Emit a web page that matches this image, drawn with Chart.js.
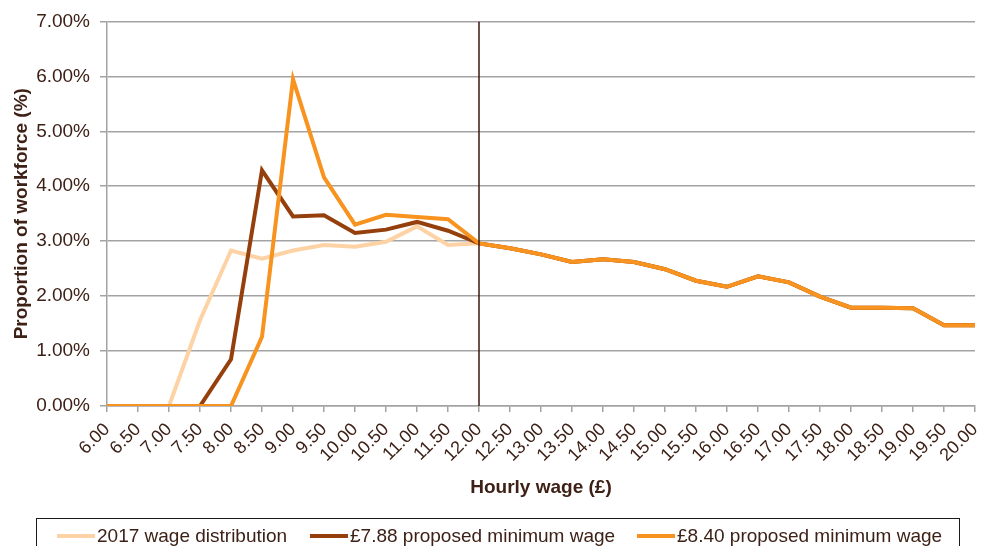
<!DOCTYPE html>
<html>
<head>
<meta charset="utf-8">
<script src="https://cdn.jsdelivr.net/npm/chart.js@4/dist/chart.umd.min.js"></script>
<style>
  body { margin: 0; background: #fff; }
  #wrap { position: relative; width: 984px; height: 546px; overflow: hidden; font-family: "Liberation Sans", Arial, sans-serif; }
  #legend { position: absolute; left: 36px; top: 518px; width: 924px; height: 60px; border: 1px solid #1a1a1a; box-sizing: border-box; }
  .item { position: absolute; top: 5px; font-size: 19px; color: #3d2117; line-height: 24px; white-space: nowrap; }
  .swatch { display: inline-block; width: 38px; height: 4px; vertical-align: middle; margin-right: 2px; position: relative; top: -1px; }
</style>
</head>
<body>
<div id="wrap">
  <canvas id="chart" width="984" height="546"></canvas>
  <div id="legend"></div>
</div>
<script>
'use strict';

const wages = ['6.00', '6.50', '7.00', '7.50', '8.00', '8.50', '9.00', '9.50', '10.00', '10.50',
  '11.00', '11.50', '12.00', '12.50', '13.00', '13.50', '14.00', '14.50', '15.00', '15.50',
  '16.00', '16.50', '17.00', '17.50', '18.00', '18.50', '19.00', '19.50', '20.00'];

// proportion of workforce, %
const dist2017 = [0, 0, 0, 1.56, 2.83, 2.68, 2.83, 2.93, 2.90, 2.99, 3.27, 2.93, 2.96,
  2.87, 2.76, 2.62, 2.67, 2.62, 2.49, 2.28, 2.17, 2.36, 2.25, 1.99, 1.79, 1.79, 1.78, 1.47, 1.47];
const min788 = [0, 0, 0, 0, 0.85, 4.29, 3.45, 3.47, 3.15, 3.21, 3.35, 3.19, 2.96,
  2.87, 2.76, 2.62, 2.67, 2.62, 2.49, 2.28, 2.17, 2.36, 2.25, 1.99, 1.79, 1.79, 1.78, 1.47, 1.47];
const min840 = [0, 0, 0, 0, 0, 1.26, 5.95, 4.16, 3.30, 3.48, 3.44, 3.40, 2.96,
  2.87, 2.76, 2.62, 2.67, 2.62, 2.49, 2.28, 2.17, 2.36, 2.25, 1.99, 1.79, 1.79, 1.78, 1.47, 1.47];

const yTicks = [0, 1, 2, 3, 4, 5, 6, 7];
const markerWage = '12.00';

const seriesNames = ['2017 wage distribution', '£7.88 proposed minimum wage', '£8.40 proposed minimum wage'];
const colours = ['#fdd3a6', '#943f0c', '#f7931e'];

const textColour = '#3d2117';
const gridColour = '#a3a3a3';
const font = { family: '"Liberation Sans", Arial, sans-serif', size: 19 };

const ctx = document.getElementById('chart').getContext('2d');
const chart = new Chart(ctx, {
  type: 'line',
  data: {
    labels: wages,
    datasets: [
      { label: seriesNames[0], data: dist2017, borderColor: colours[0], order: 3 },
      { label: seriesNames[1], data: min788, borderColor: colours[1], order: 2 },
      { label: seriesNames[2], data: min840, borderColor: colours[2], order: 1 },
      {
        label: 'marker',
        data: [{ x: markerWage, y: yTicks[0] }, { x: markerWage, y: yTicks[yTicks.length - 1] }],
        borderColor: '#3a1a10', borderWidth: 1.5, order: 0
      }
    ]
  },
  options: {
    responsive: false,
    animation: false,
    layout: { padding: { top: 21, right: 9, bottom: 45, left: 0 } },
    elements: {
      line: { borderWidth: 4, tension: 0, fill: false, borderJoinStyle: 'miter' },
      point: { radius: 0 }
    },
    plugins: { legend: { display: false }, tooltip: { enabled: false } },
    scales: {
      x: {
        type: 'category',
        offset: false,
        afterFit: (scale) => { scale.height = 95; scale.paddingRight = 0; scale.paddingLeft = 0; },
        grid: { drawOnChartArea: false, color: gridColour, tickLength: 6, lineWidth: 1.5 },
        border: { color: gridColour, width: 1.5 },
        ticks: { color: textColour, font: { ...font, size: 18 }, maxRotation: 45, minRotation: 45, autoSkip: false, padding: 7 },
        title: { display: true, text: 'Hourly wage (£)', color: textColour, font: { ...font, weight: 'bold' }, padding: { top: 4, bottom: 2 } }
      },
      y: {
        min: yTicks[0],
        max: yTicks[yTicks.length - 1],
        afterFit: (scale) => { scale.width = 107; },
        afterBuildTicks: (scale) => { scale.ticks = yTicks.map(v => ({ value: v })); },
        grid: { color: gridColour, tickLength: 7, lineWidth: 1.5 },
        border: { color: gridColour, width: 1.5 },
        ticks: { color: textColour, font: font, padding: 10, callback: (v) => Number(v).toFixed(2) + '%' },
        title: { display: true, text: 'Proportion of workforce (%)', color: textColour, font: { ...font, weight: 'bold' }, padding: { top: 10, bottom: 0 } }
      }
    }
  }
});

// legend box below the chart
const legendLeft = [20, 273, 600];
const legend = document.getElementById('legend');
seriesNames.forEach((name, i) => {
  const item = document.createElement('div');
  item.className = 'item';
  item.style.left = legendLeft[i] + 'px';
  item.innerHTML = '<span class="swatch" style="background:' + colours[i] + '"></span>' + name;
  legend.appendChild(item);
});
</script>
</body>
</html>
